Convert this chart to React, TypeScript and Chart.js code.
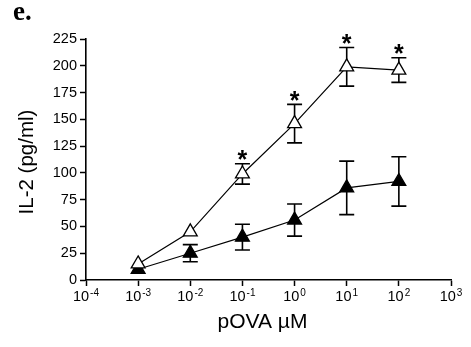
import React, { useEffect, useRef } from "react";
import { Chart, registerables } from "chart.js";

Chart.register(...registerables);

// ---- data ----
const CONCENTRATIONS = [1e-3, 1e-2, 1e-1, 1e0, 1e1, 1e2];
const OPEN_VALUES = [15, 45, 99, 146, 199, 196];
const OPEN_ERRORS = [0, 0, 9.5, 18, 18, 11.5];
const FILLED_VALUES = [10, 25, 40, 56, 86, 92];
const FILLED_ERRORS = [0, 8, 12, 15, 25, 23];
const SIGNIFICANT = [false, false, true, true, true, true];
const X_TICK_EXPONENTS = [-4, -3, -2, -1, 0, 1, 2, 3];
const Y_MIN = 0;
const Y_MAX = 225;
const Y_STEP = 25;
const X_TITLE = "pOVA µM";
const Y_TITLE = "IL-2 (pg/ml)";
const PANEL_LABEL = "e.";

const SANS = "'Liberation Sans', Arial, Helvetica, sans-serif";
const SERIF = "'Liberation Serif', 'Times New Roman', serif";

const errorBarPlugin = {
  id: "errorBars",
  beforeDatasetsDraw(chart: any) {
    const { ctx, scales } = chart;
    const xs = scales.x;
    const ys = scales.y;
    const series = [
      { v: OPEN_VALUES, e: OPEN_ERRORS },
      { v: FILLED_VALUES, e: FILLED_ERRORS },
    ];
    ctx.save();
    ctx.strokeStyle = "#000";
    ctx.lineWidth = 1.6;
    const cap = 7.5;
    series.forEach((s) => {
      CONCENTRATIONS.forEach((c, j) => {
        const err = s.e[j];
        if (!err) return;
        const x = xs.getPixelForValue(c);
        const yt = ys.getPixelForValue(s.v[j] + err);
        const yb = ys.getPixelForValue(s.v[j] - err);
        ctx.beginPath();
        ctx.moveTo(x, yt);
        ctx.lineTo(x, yb);
        ctx.moveTo(x - cap, yt);
        ctx.lineTo(x + cap, yt);
        ctx.moveTo(x - cap, yb);
        ctx.lineTo(x + cap, yb);
        ctx.stroke();
      });
    });
    ctx.restore();
  },
  afterDraw(chart: any) {
    const { ctx, scales, chartArea } = chart;
    const xs = scales.x;
    const ys = scales.y;
    ctx.save();
    ctx.fillStyle = "#000";

    // significance asterisks
    ctx.font = `bold 25px ${SANS}`;
    ctx.textAlign = "center";
    ctx.textBaseline = "alphabetic";
    CONCENTRATIONS.forEach((c, j) => {
      if (!SIGNIFICANT[j]) return;
      const x = xs.getPixelForValue(c);
      const yt = ys.getPixelForValue(OPEN_VALUES[j] + OPEN_ERRORS[j]);
      ctx.fillText("*", x, yt + 4.5);
    });

    // x tick labels with superscript exponents
    const baseY = xs.top + 21;
    X_TICK_EXPONENTS.forEach((e) => {
      const x = xs.getPixelForValue(Math.pow(10, e));
      const base = "10";
      const sup = e < 0 ? `-${Math.abs(e)}` : `${e}`;
      ctx.font = `14.5px ${SANS}`;
      const wb = ctx.measureText(base).width;
      ctx.font = `10px ${SANS}`;
      const ws = ctx.measureText(sup).width + 1;
      const start = x - (wb + ws) / 2;
      ctx.textAlign = "left";
      ctx.font = `14.5px ${SANS}`;
      ctx.fillText(base, start, baseY);
      ctx.font = `10px ${SANS}`;
      ctx.fillText(sup, start + wb + 1, baseY - 5);
    });

    // axis titles
    ctx.textAlign = "center";
    ctx.textBaseline = "middle";
    ctx.font = `21px ${SANS}`;
    ctx.fillText(X_TITLE, (chartArea.left + chartArea.right) / 2 - 6, 322);

    ctx.save();
    ctx.translate(27, 162);
    ctx.rotate(-Math.PI / 2);
    ctx.font = `20.5px ${SANS}`;
    ctx.fillText(Y_TITLE, 0, 0);
    ctx.restore();

    // panel label
    ctx.textAlign = "left";
    ctx.textBaseline = "alphabetic";
    ctx.font = `bold 27px ${SERIF}`;
    ctx.fillText(PANEL_LABEL, 13, 20);

    ctx.restore();
  },
};

export default function App() {
  const canvasRef = useRef<HTMLCanvasElement | null>(null);

  useEffect(() => {
    const canvas = canvasRef.current;
    if (!canvas) return;
    const chart = new Chart(canvas, {
      type: "line",
      data: {
        datasets: [
          {
            label: "open",
            data: CONCENTRATIONS.map((c, i) => ({ x: c, y: OPEN_VALUES[i] })),
            borderColor: "#000",
            borderWidth: 1.2,
            pointStyle: "triangle",
            pointRadius: 8,
            pointBackgroundColor: "#fff",
            pointBorderColor: "#000",
            pointBorderWidth: 1.3,
            fill: false,
            tension: 0,
          },
          {
            label: "filled",
            data: CONCENTRATIONS.map((c, i) => ({ x: c, y: FILLED_VALUES[i] })),
            borderColor: "#000",
            borderWidth: 1.2,
            pointStyle: "triangle",
            pointRadius: 8,
            pointBackgroundColor: "#000",
            pointBorderColor: "#000",
            pointBorderWidth: 1.3,
            fill: false,
            tension: 0,
          },
        ],
      },
      options: {
        responsive: false,
        animation: false,
        events: [],
        layout: { padding: { left: 0, right: 20, top: 39, bottom: 0 } },
        plugins: {
          legend: { display: false },
          tooltip: { enabled: false },
          title: { display: false },
        },
        scales: {
          x: {
            type: "logarithmic",
            min: Math.pow(10, X_TICK_EXPONENTS[0]),
            max: Math.pow(10, X_TICK_EXPONENTS[X_TICK_EXPONENTS.length - 1]),
            afterBuildTicks: (scale: any) => {
              scale.ticks = X_TICK_EXPONENTS.map((e) => ({ value: Math.pow(10, e) }));
            },
            afterFit: (scale: any) => {
              scale.height = 67;
            },
            ticks: { display: false },
            grid: {
              display: true,
              drawOnChartArea: false,
              drawTicks: true,
              tickLength: 6,
              tickColor: "#000",
              tickWidth: 1.5,
            },
            border: { display: true, color: "#000", width: 1.6 },
          },
          y: {
            type: "linear",
            min: Y_MIN,
            max: Y_MAX,
            afterFit: (scale: any) => {
              scale.width = 86;
            },
            ticks: {
              stepSize: Y_STEP,
              color: "#000",
              padding: 3,
              font: { family: SANS, size: 14.5 },
            },
            grid: {
              display: true,
              drawOnChartArea: false,
              drawTicks: true,
              tickLength: 6,
              tickColor: "#000",
              tickWidth: 1.5,
            },
            border: { display: true, color: "#000", width: 1.6 },
          },
        },
      },
      plugins: [errorBarPlugin],
    });
    return () => chart.destroy();
  }, []);

  return (
    <div style={{ position: "absolute", left: 0, top: 0, width: 471, height: 347, background: "#fff" }}>
      <canvas ref={canvasRef} width={471} height={347} />
    </div>
  );
}
